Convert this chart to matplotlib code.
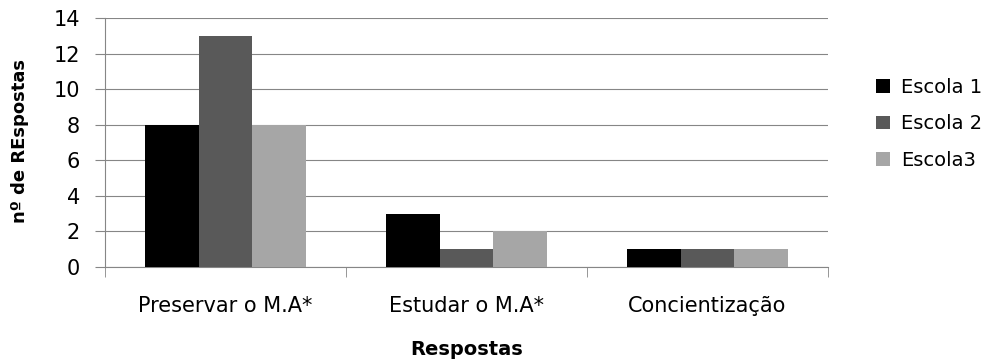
import numpy as np
import matplotlib
matplotlib.use("Agg")
import matplotlib.pyplot as plt

categorias = ["Preservar o M.A*", "Estudar o M.A*", "Concientização"]
escolas = ["Escola 1", "Escola 2", "Escola3"]
escola1 = [8, 3, 1]
escola2 = [13, 1, 1]
escola3 = [8, 2, 1]
cores = ["#000000", "#595959", "#a6a6a6"]

plt.rcParams["font.family"] = ["DejaVu Sans"]

fig = plt.figure(figsize=(10.03, 3.62), dpi=100)
ax = fig.add_axes([0.1047, 0.2624, 0.7208, 0.6878])

x = np.arange(len(categorias))
w = 0.222
for i, (vals, nome) in enumerate(zip([escola1, escola2, escola3], escolas)):
    ax.bar(x + (i - 1) * w, vals, width=w, color=cores[i], label=nome, zorder=3)

ax.set_xlim(-0.5, 2.5)
ax.set_ylim(0, 14)
ax.set_yticks(range(0, 15, 2))
ax.set_xticks(x)
ax.set_xticklabels(categorias, fontsize=15)
ax.set_xticks([-0.5, 0.5, 1.5, 2.5], minor=True)
ax.tick_params(axis="x", which="major", length=0, pad=21)
ax.tick_params(axis="x", which="minor", length=7, color="#868686")
ax.tick_params(axis="y", labelsize=15, length=7, color="#868686", pad=11)
ax.yaxis.grid(True, color="#868686", linewidth=0.8, zorder=0)

for s in ["top", "right"]:
    ax.spines[s].set_visible(False)
for s in ["left", "bottom"]:
    ax.spines[s].set_color("#868686")

ax.set_xlabel("Respostas", fontsize=14, fontweight="bold", va="center")
ax.xaxis.set_label_coords(0.5, -0.333)
ax.set_ylabel("nº de REspostas", fontsize=13, fontweight="bold", va="center")
ax.yaxis.set_label_coords(-0.117, 0.506)

ax.legend(loc="center left", bbox_to_anchor=(1.067, 0.575), frameon=False,
          fontsize=14, handlelength=0.7, handleheight=0.7, labelspacing=0.9,
          handletextpad=0.55, borderpad=0, borderaxespad=0)

fig.savefig("out.png", dpi=100)
